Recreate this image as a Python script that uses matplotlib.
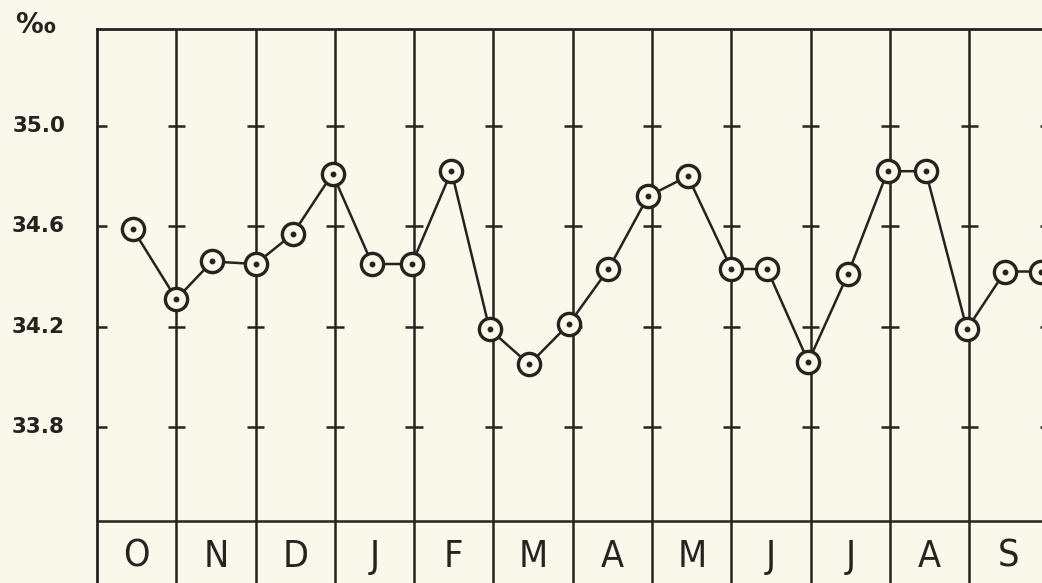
import matplotlib
matplotlib.use("Agg")
import matplotlib.pyplot as plt

# salinity, two readings per month (Oct .. Sep)
months = ["O", "N", "D", "J", "F", "M", "A", "M", "J", "J", "A", "S"]
t = [0.45, 1.0, 1.45, 2.0, 2.47, 2.97, 3.47, 3.97, 4.47, 4.95, 5.45, 5.95,
     6.45, 6.95, 7.45, 8.0, 8.45, 8.97, 9.47, 9.97, 10.45, 10.97, 11.45, 11.9]
sal = [34.59, 34.31, 34.46, 34.45, 34.57, 34.81, 34.45, 34.45, 34.82, 34.19,
       34.05, 34.21, 34.43, 34.72, 34.80, 34.43, 34.43, 34.06, 34.41, 34.82,
       34.82, 34.19, 34.42, 34.42]
yticks = [33.8, 34.2, 34.6, 35.0]
ylabels = ["33.8", "34.2", "34.6", "35.0"]

ink = "#26221f"
paper = "#f8f8eb"

fig = plt.figure(figsize=(10.42, 5.83), dpi=100)
fig.patch.set_facecolor(paper)
ax = fig.add_axes([97 / 1042, 0.0, 951.6 / 1042, 1 - 29 / 583])
ax.set_facecolor(paper)
ax.set_xlim(0, 12)
ax.set_ylim(33.178, 35.387)

for s in ["left", "top", "right"]:
    ax.spines[s].set_linewidth(2)
    ax.spines[s].set_color(ink)
ax.spines["bottom"].set_visible(False)
ax.set_xticks([])
ax.set_yticks([])

# month columns and label row
for m in range(1, 12):
    ax.axvline(m, color=ink, lw=1.8, zorder=1)
ax.axhline(33.425, color=ink, lw=1.8, zorder=1)
for i, name in enumerate(months):
    ax.text(i + 0.5, 33.282, name, ha="center", va="center", fontsize=27,
            fontstretch="condensed", color=ink)

# cross ticks on each column line
for y in yticks:
    ax.hlines(y, 0, 0.12, color=ink, lw=1.8, zorder=1)
    for m in range(1, 13):
        ax.hlines(y, m - 0.11, m + 0.11, color=ink, lw=1.8, zorder=1)
for y, lab in zip(yticks, ylabels):
    fig.text(65 / 1042, ax.transData.transform((0, y))[1] / fig.bbox.height,
             lab, ha="right", va="center", fontsize=15.5, fontweight="bold",
             color=ink)
fig.text(35 / 1042, 1 - 25 / 583, "‰", ha="center", va="center",
         fontsize=20, fontweight="bold", color=ink)

ax.plot(t, sal, color=ink, lw=1.8, zorder=2, clip_on=False)
ax.plot(t, sal, "o", ms=16, mfc=paper, mec=ink, mew=2.4, zorder=3,
        clip_on=False)
ax.plot(t, sal, "o", ms=3.2, color=ink, zorder=4, clip_on=False)

fig.savefig("out.png", dpi=100, facecolor=fig.get_facecolor())
